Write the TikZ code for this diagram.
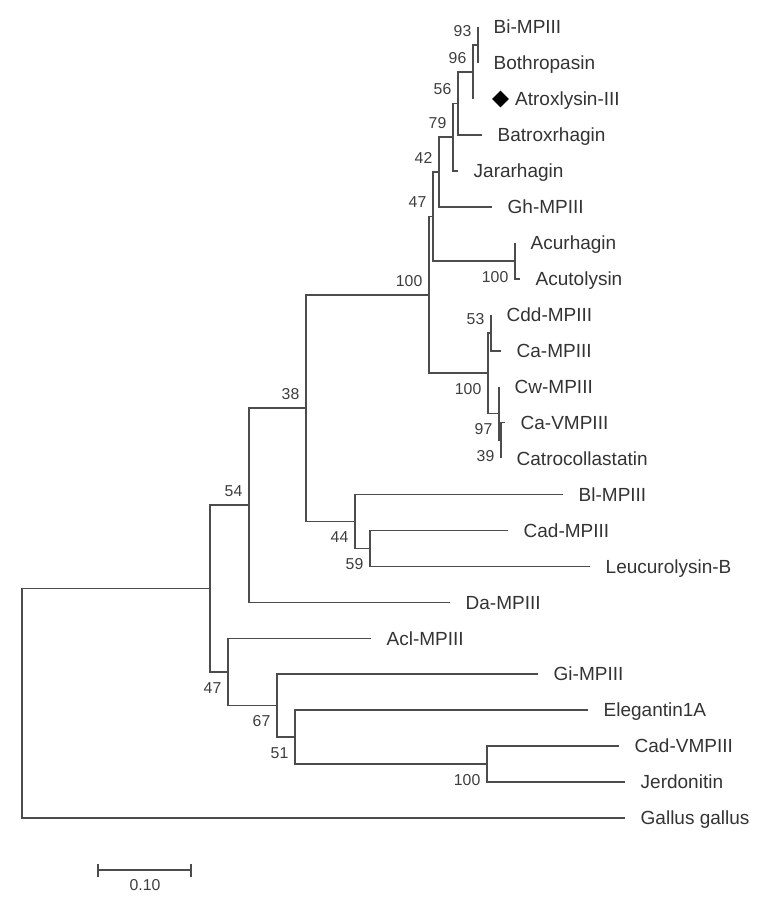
\documentclass[tikz,border=0pt]{standalone}
\usepackage{fontspec}
\setmainfont{Liberation Sans}
\usetikzlibrary{shapes.geometric}
\begin{document}
\begin{tikzpicture}[x=1bp,y=-1bp,
  br/.style={draw=black!70, line width=1.35bp},
  leaf/.style={anchor=west, inner xsep=15.5bp, inner ysep=0pt, text height=13.6bp, text depth=0pt,
    font=\fontsize{19bp}{21bp}\selectfont, text=black!80},
  bsbase/.style={inner sep=0pt, text height=11.3bp, text depth=0pt,
    font=\fontsize{15.8bp}{17bp}\selectfont, text=black!76},
  bsup/.style={bsbase, anchor=south east, xshift=-6.5bp, yshift=8.5bp},
  bsdn/.style={bsbase, anchor=north east, xshift=-6.5bp, yshift=-9.5bp},
  diamark/.style={diamond, fill=black, draw=none, inner sep=0pt, minimum width=17bp, minimum height=17bp}
]
\useasboundingbox (0,0) rectangle (765,905);

% internal nodes
\coordinate (root) at (22,703);
\coordinate (n210) at (210,588.5);
\coordinate (n54) at (249,505);
\coordinate (n38) at (306,408);
\coordinate (n100a) at (429,295);
\coordinate (n47a) at (433,216.5);
\coordinate (n42) at (439,172);
\coordinate (n79) at (453,137);
\coordinate (n56) at (458,103.5);
\coordinate (n96) at (473,72);
\coordinate (n93) at (478,45);
\coordinate (nacu) at (515,261);
\coordinate (n100b) at (488,373);
\coordinate (n53) at (491,333);
\coordinate (n97) at (499,413.5);
\coordinate (n39) at (501,440.5);
\coordinate (n44) at (355,521.4);
\coordinate (n59) at (370,548.3);
\coordinate (n47b) at (228,672);
\coordinate (n67) at (277,705.6);
\coordinate (n51) at (295,737);
\coordinate (n100c) at (487,764);

% leaves
\node[leaf] (Bi) at (478,27) {Bi-MPIII};
\node[leaf] (Both) at (478,63) {Bothropasin};
\coordinate (tAtrox) at (473,99);
\node[diamark] (diam) at (500.5,99) {};
\node[leaf, inner xsep=0pt] (Atrox) at (515,99) {Atroxlysin-III};
\node[leaf] (Batrox) at (482,135) {Batroxrhagin};
\node[leaf] (Jarar) at (458,171) {Jararhagin};
\node[leaf] (Gh) at (492,207) {Gh-MPIII};
\node[leaf] (Acur) at (515,243) {Acurhagin};
\node[leaf] (Acut) at (520,279) {Acutolysin};
\node[leaf] (Cdd) at (491,315) {Cdd-MPIII};
\node[leaf] (Ca) at (501,351) {Ca-MPIII};
\node[leaf] (Cw) at (499,386.5) {Cw-MPIII};
\node[leaf] (CaV) at (505,422.5) {Ca-VMPIII};
\node[leaf] (Catro) at (501,458.4) {Catrocollastatin};
\node[leaf] (Bl) at (563,494.4) {Bl-MPIII};
\node[leaf] (Cad) at (508,530.3) {Cad-MPIII};
\node[leaf] (Leuc) at (590,566.3) {Leucurolysin-B};
\node[leaf] (Da) at (450,602.2) {Da-MPIII};
\node[leaf] (Acl) at (371,638.2) {Acl-MPIII};
\node[leaf] (Gi) at (538,674.1) {Gi-MPIII};
\node[leaf] (Eleg) at (588,710.1) {Elegantin1A};
\node[leaf] (CadV) at (619,746) {Cad-VMPIII};
\node[leaf] (Jerd) at (625,782) {Jerdonitin};
\node[leaf] (Gallus) at (625,818) {Gallus gallus};

% branches
\draw[br] (root) |- (n210);  \draw[br] (root) |- (Gallus.west);
\draw[br] (n210) |- (n54);   \draw[br] (n210) |- (n47b);
\draw[br] (n54) |- (n38);    \draw[br] (n54) |- (Da.west);
\draw[br] (n38) |- (n100a);  \draw[br] (n38) |- (n44);
\draw[br] (n100a) |- (n47a); \draw[br] (n100a) |- (n100b);
\draw[br] (n47a) |- (n42);   \draw[br] (n47a) |- (nacu);
\draw[br] (n42) |- (n79);    \draw[br] (n42) |- (Gh.west);
\draw[br] (n79) |- (n56);    \draw[br] (n79) |- (Jarar.west);
\draw[br] (n56) |- (n96);    \draw[br] (n56) |- (Batrox.west);
\draw[br] (n96) |- (n93);    \draw[br] (n96) |- (tAtrox);
\draw[br] (n93) |- (Bi.west); \draw[br] (n93) |- (Both.west);
\draw[br] (nacu) |- (Acur.west); \draw[br] (nacu) |- (Acut.west);
\draw[br] (n100b) |- (n53);  \draw[br] (n100b) |- (n97);
\draw[br] (n53) |- (Cdd.west); \draw[br] (n53) |- (Ca.west);
\draw[br] (n97) |- (Cw.west);  \draw[br] (n97) |- (n39);
\draw[br] (n39) |- (CaV.west); \draw[br] (n39) |- (Catro.west);
\draw[br] (n44) |- (Bl.west);  \draw[br] (n44) |- (n59);
\draw[br] (n59) |- (Cad.west); \draw[br] (n59) |- (Leuc.west);
\draw[br] (n47b) |- (Acl.west); \draw[br] (n47b) |- (n67);
\draw[br] (n67) |- (Gi.west);  \draw[br] (n67) |- (n51);
\draw[br] (n51) |- (Eleg.west); \draw[br] (n51) |- (n100c);
\draw[br] (n100c) |- (CadV.west); \draw[br] (n100c) |- (Jerd.west);

% bootstrap values
\node[bsup] (b93) at (n93) {93};
\node[bsup] (b96) at (n96) {96};
\node[bsup] (b56) at (n56) {56};
\node[bsup] (b79) at (n79) {79};
\node[bsup] (b42) at (n42) {42};
\node[bsup] (b47a) at (n47a) {47};
\node[bsup] (b100a) at (n100a) {100};
\node[bsup] (b38) at (n38) {38};
\node[bsup] (b54) at (n54) {54};
\node[bsup] (b53) at (n53) {53};
\node[bsdn] (bacu) at (nacu) {100};
\node[bsdn] (b100b) at (n100b) {100};
\node[bsdn] (b97) at (n97) {97};
\node[bsdn] (b39) at (n39) {39};
\node[bsdn] (b44) at (n44) {44};
\node[bsdn] (b59) at (n59) {59};
\node[bsdn] (b47b) at (n47b) {47};
\node[bsdn] (b67) at (n67) {67};
\node[bsdn] (b51) at (n51) {51};
\node[bsdn] (b100c) at (n100c) {100};

% scale bar
\coordinate (sbL) at (98,870);
\coordinate (sbR) at (191,870);
\draw[br] (sbL) -- (sbR);
\draw[br] ([yshift=6.5bp]sbL) -- ([yshift=-6.5bp]sbL);
\draw[br] ([yshift=6.5bp]sbR) -- ([yshift=-6.5bp]sbR);
\node[bsbase] (sblab) at (145,885) {0.10};
\end{tikzpicture}
\end{document}
